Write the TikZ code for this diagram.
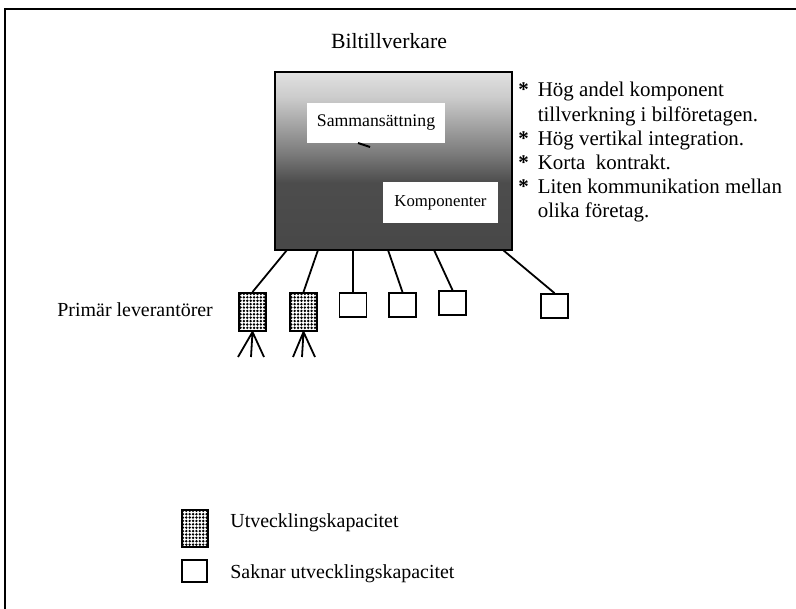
\documentclass[tikz,border=0pt]{standalone}
\usepackage{fontspec}
\setmainfont{Liberation Serif}
\usetikzlibrary{patterns.meta}

\pgfdeclareverticalshading{bilgrad}{100bp}{color(0bp)=(black!72); color(25bp)=(black!72); color(44bp)=(black!70); color(52bp)=(black!52); color(60bp)=(black!36); color(68bp)=(black!20); color(75bp)=(black!12); color(100bp)=(black!12)}

\tikzset{
  dev/.style={draw, line width=1pt, pattern={Dots[distance=1.7pt,radius=0.68pt]}, minimum width=13.5bp, minimum height=19bp, inner sep=0pt},
  nodev/.style={draw, line width=0.9pt, fill=white, minimum width=13.5bp, minimum height=12bp, inner sep=0pt},
  inbox/.style={fill=white, inner sep=0pt},
  txt/.style={inner sep=0pt, font=\fontsize{10}{12}\selectfont},
  conn/.style={line width=0.9pt}
}

\begin{document}
\begin{tikzpicture}[x=0.5bp,y=-0.5bp]
\useasboundingbox (0,0) rectangle (796,609);
\draw[line width=0.8pt] (5,609) -- (5,9) -- (796,9);

\node[txt, font=\fontsize{10.9}{13}\selectfont] (titel) at (389,41) {Biltillverkare};

\node[draw, shading=bilgrad, line width=0.6pt, minimum width=118.5bp, minimum height=89bp, inner sep=0pt] (bil) at (393.5,161) {};
\node[inbox, minimum width=69bp, minimum height=20bp, font=\fontsize{8.9}{10}\selectfont] (samm) at (376,123) {Sammansättning};
\draw[line width=1pt] (358,143) -- (370,147);
\node[inbox, minimum width=57.5bp, minimum height=20.5bp, font=\fontsize{8.4}{10}\selectfont] (komp) at (440.5,202.5) {Komponenter};

\node[txt, anchor=base west, font=\fontsize{10.5}{12.1}\selectfont] (notes) at (518,97) {%
\begin{tabular}[t]{@{}l@{\hspace{4.5bp}}l@{}}
{\bfseries *} & Hög andel komponent\\
  & tillverkning i bilföretagen.\\
{\bfseries *} & Hög vertikal integration.\\
{\bfseries *} & Korta\ \ kontrakt.\\
{\bfseries *} & Liten kommunikation mellan\\
  & olika företag.
\end{tabular}};

% leverantorer
\node[txt, anchor=west] (prim) at (57,310) {Primär leverantörer};
\node[dev] (p1) at (252.5,312) {};
\node[dev] (p2) at (303.5,312) {};
\node[nodev] (s1) at (353,305) {};
\node[nodev] (s2) at (402.5,305) {};
\node[nodev] (s3) at (452.5,303) {};
\node[nodev] (s4) at (554.5,306) {};

\coordinate (b1) at (287,250);
\coordinate (b2) at (318,250);
\coordinate (b3) at (353,250);
\coordinate (b4) at (388,250);
\coordinate (b5) at (434,250);
\coordinate (b6) at (503,250);
\draw[conn] (b1) -- (p1.north);
\draw[conn] (b2) -- (p2.north);
\draw[conn] (b3) -- (s1.north);
\draw[conn] (b4) -- (s2.north);
\draw[conn] (b5) -- (s3.north);
\draw[conn] (b6) -- (s4.north);

\coordinate (l1) at (238,357);
\coordinate (l2) at (251,357);
\coordinate (l3) at (264,357);
\coordinate (l4) at (293,357);
\coordinate (l5) at (302,357);
\coordinate (l6) at (315,357);
\draw[conn] (l1) -- (p1.south) -- (l3) (p1.south) -- (l2);
\draw[conn] (l4) -- (p2.south) -- (l6) (p2.south) -- (l5);

% forklaring
\node[dev, minimum width=13bp, minimum height=18.5bp] (legdev) at (195,528.5) {};
\node[nodev, minimum width=12.5bp, minimum height=11bp] (legno) at (194.5,571) {};
\node[txt, anchor=west] (legdevtxt) at (230,523) {Utvecklingskapacitet};
\node[txt, anchor=west] (legnotxt) at (230,574) {Saknar utvecklingskapacitet};
\end{tikzpicture}
\end{document}
